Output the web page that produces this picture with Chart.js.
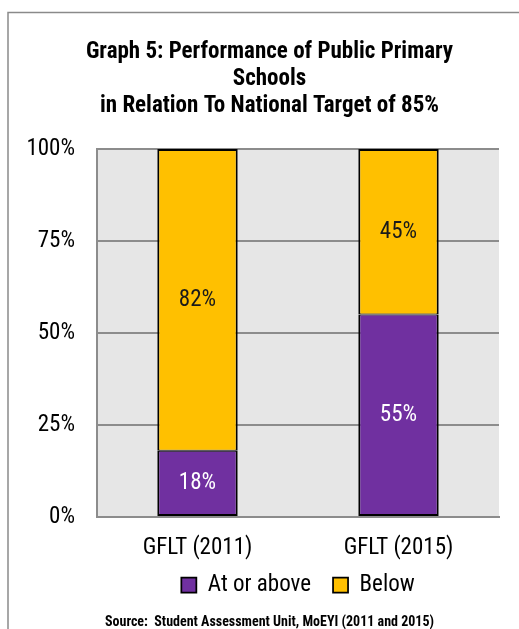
<!DOCTYPE html>
<html>
<head>
<meta charset="utf-8">
<script src="https://cdn.jsdelivr.net/npm/chart.js@4"></script>
<style>
  body { margin: 0; background: #fff; }
  #wrap { width: 519px; height: 629px; }
</style>
</head>
<body>
<div id="wrap"><canvas id="myChart"></canvas></div>
<script>
const categories = ['GFLT (2011)', 'GFLT (2015)'];
const atOrAbove = [18, 55];
const below = [82, 45];
const yTicks = [0, 25, 50, 75, 100];

// look for a narrow face like the Arial Narrow of the original, else use Liberation Sans a bit smaller
function pickFont() {
    const c = document.createElement('canvas').getContext('2d');
    const probe = 'Graph 5: Performance of Public Primary';
    c.font = '20px "Liberation Sans"';
    const base = c.measureText(probe).width;
    const tries = [
        ['', '"Liberation Sans Narrow"'],
        ['', '"Arial Narrow"'],
        ['', '"Roboto Condensed"'],
        ['condensed', 'Roboto'],
        ['condensed', '"Open Sans"'],
        ['condensed', 'Inter']
    ];
    for (const [stretch, fam] of tries) {
        c.font = (stretch ? stretch + ' ' : '') + '20px ' + fam;
        if (c.measureText(probe).width < base * 0.9) return { stretch, family: fam, k: 1 };
    }
    return { stretch: '', family: '"Liberation Sans", Arial, sans-serif', k: 0.86 };
}
const F = pickFont();
const w = (bold) => ((F.stretch ? F.stretch + ' ' : '') + (bold ? 'bold' : 'normal'));
const SIZE = Math.round(23 * F.k);
const TITLE_SIZE = Math.round(23 * F.k);
const SRC_SIZE = Math.round(14 * F.k);
Chart.defaults.font.family = F.family;
Chart.defaults.color = '#000';

const LEG_PAD = 22;
const X_H = 68 - LEG_PAD - SIZE / 2;
const LEG_H = Math.max(SIZE, 15) + LEG_PAD + 10;
const SRC_TOP = 112 - X_H - LEG_H - 13;

// grey frame round the chart, and the grey plot background
const framePlugin = {
    id: 'frame',
    afterLayout(chart) {
        // the x labels hang below the (short) x axis box; let them draw there
        chart.scales.x.bottom += 20;
    },
    beforeDraw(chart) {
        const ctx = chart.ctx;
        const a = chart.chartArea;
        ctx.save();
        ctx.strokeStyle = '#8a8a8a';
        ctx.lineWidth = 1.5;
        ctx.beginPath();
        ctx.moveTo(8, chart.height);
        ctx.lineTo(8, 12.5);
        ctx.lineTo(chart.width, 12.5);
        ctx.stroke();
        ctx.fillStyle = '#e6e6e6';
        ctx.fillRect(a.left, a.top, a.right - a.left, a.bottom - a.top);
        ctx.restore();
    }
};

// value labels in the middle of each bar segment
const labelPlugin = {
    id: 'barLabels',
    afterDatasetsDraw(chart) {
        const ctx = chart.ctx;
        ctx.save();
        ctx.font = w(false) + ' ' + SIZE + 'px ' + F.family;
        ctx.textAlign = 'center';
        ctx.textBaseline = 'middle';
        chart.data.datasets.forEach((ds, i) => {
            const meta = chart.getDatasetMeta(i);
            meta.data.forEach((bar, j) => {
                ctx.fillStyle = i === 0 ? '#ffffff' : '#1a1a1a';
                ctx.fillText(ds.data[j] + '%', bar.x, (bar.y + bar.base) / 2);
            });
        });
        ctx.restore();
    }
};

const data = {
    labels: categories,
    datasets: [{
        label: 'At or above',
        data: atOrAbove,
        backgroundColor: '#7030a0',
        borderColor: '#000',
        borderWidth: { left: 2, right: 2, top: 1, bottom: 2 },
        borderSkipped: false,
        barPercentage: 0.8,
        categoryPercentage: 0.5
    }, {
        label: 'Below',
        data: below,
        backgroundColor: '#ffc000',
        borderColor: '#000',
        borderWidth: { left: 2, right: 2, top: 2, bottom: 1 },
        borderSkipped: false,
        barPercentage: 0.8,
        categoryPercentage: 0.5
    }]
};

const config = {
    type: 'bar',
    data: data,
    options: {
        responsive: true,
        maintainAspectRatio: false,
        animation: false,
        layout: { padding: { left: 20, right: 0, top: 0, bottom: 0 } },
        plugins: {
            title: {
                display: true,
                text: ['Graph 5: Performance of Public Primary', 'Schools', 'in Relation To National Target of 85%'],
                font: { size: TITLE_SIZE, weight: w(true), lineHeight: '27px' },
                color: '#000',
                padding: { top: 39, bottom: 29 }
            },
            subtitle: {
                display: true,
                position: 'bottom',
                text: 'Source:  Student Assessment Unit, MoEYI (2011 and 2015)',
                font: { size: SRC_SIZE, weight: w(true), lineHeight: '12px' },
                color: '#000',
                padding: { top: SRC_TOP, bottom: 1 }
            },
            legend: {
                position: 'bottom',
                fullSize: false,
                labels: {
                    boxWidth: 15,
                    boxHeight: 15,
                    padding: LEG_PAD,
                    font: { size: SIZE, weight: w(false) },
                    color: '#000'
                }
            },
            tooltip: { enabled: false }
        },
        scales: {
            x: {
                stacked: true,
                afterFit: s => { s.height = X_H; },
                grid: { display: false, drawTicks: false },
                border: { display: true, color: '#8c8c8c', width: 2 },
                ticks: { padding: 17, font: { size: SIZE, weight: w(false) }, color: '#000' }
            },
            y: {
                stacked: true,
                min: 0,
                max: 100,
                afterBuildTicks: s => { s.ticks = yTicks.map(v => ({ value: v })); },
                afterFit: s => { s.width = 77; },
                grid: { color: '#8c8c8c', lineWidth: 2, drawTicks: false },
                border: { display: true, color: '#8c8c8c', width: 2 },
                ticks: { padding: 22, font: { size: SIZE, weight: w(false) }, color: '#000', callback: v => v + '%' }
            },
            // empty right-hand axis that only keeps a 20px margin after the plot
            yRight: {
                position: 'right',
                afterFit: s => { s.width = 20; },
                grid: { display: false, drawTicks: false },
                border: { display: false },
                ticks: { display: false }
            }
        }
    },
    plugins: [framePlugin, labelPlugin]
};

const myChart = new Chart(document.getElementById('myChart'), config);
</script>
</body>
</html>
